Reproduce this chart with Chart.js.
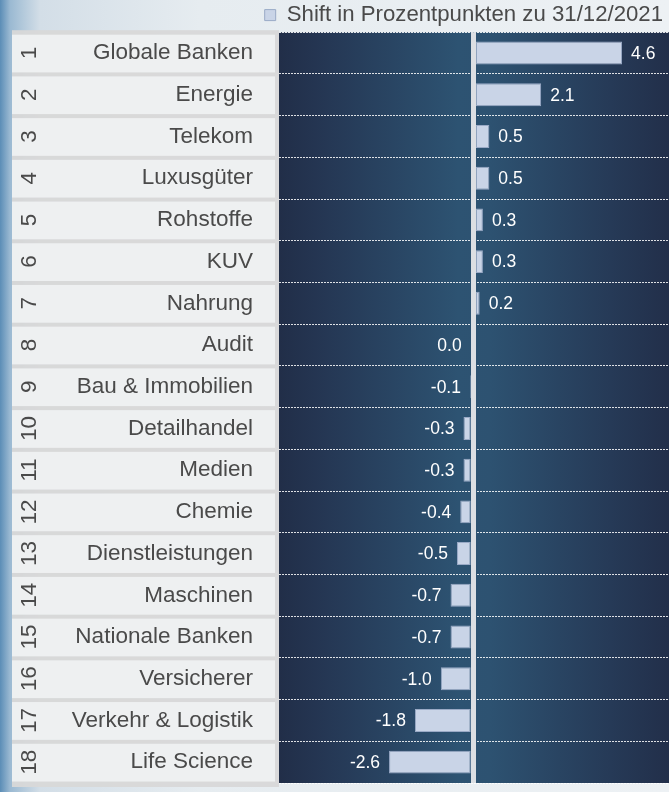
<!DOCTYPE html>
<html>
<head>
<meta charset="utf-8">
<script src="https://cdn.jsdelivr.net/npm/chart.js@4"></script>
<style>
  html, body { margin: 0; padding: 0; }
  body {
    width: 669px; height: 792px; overflow: hidden;
    background: linear-gradient(to right, #5b8db6 0px, #9ab9d2 10px, #d3dee7 40px, #e6ecf0 200px, #edf1f4 669px);
  }
  #wrap { position: relative; width: 669px; height: 792px; }
</style>
</head>
<body>
<div id="wrap"><canvas id="grafico"></canvas></div>
<script>
const ranks = [1, 2, 3, 4, 5, 6, 7, 8, 9, 10, 11, 12, 13, 14, 15, 16, 17, 18]
const sektoren = ['Globale Banken', 'Energie', 'Telekom', 'Luxusgüter', 'Rohstoffe', 'KUV', 'Nahrung', 'Audit',
  'Bau & Immobilien', 'Detailhandel', 'Medien', 'Chemie', 'Dienstleistungen', 'Maschinen', 'Nationale Banken',
  'Versicherer', 'Verkehr & Logistik', 'Life Science']
const shift = [4.6, 2.1, 0.5, 0.5, 0.3, 0.3, 0.2, 0.0, -0.1, -0.3, -0.3, -0.4, -0.5, -0.7, -0.7, -1.0, -1.8, -2.6]
const serie = 'Shift in Prozentpunkten zu 31/12/2021'

const FONT = "'Liberation Sans', Arial, sans-serif"

// Hintergrund: graue Rahmen + helle Boxen links, dunkles Panel im Plotbereich
const hintergrund = {
  id: 'hintergrund',
  beforeDraw(chart) {
    const { ctx, chartArea: a, scales: { y } } = chart
    const pitch = y.getPixelForValue(1) - y.getPixelForValue(0)
    ctx.save()
    ctx.fillStyle = 'rgba(216,216,216,0.95)'
    ctx.fillRect(12, a.top - 2, a.left - 12, a.bottom - a.top + 6)
    ctx.fillStyle = 'rgba(244,246,248,0.8)'
    sektoren.forEach((s, i) => {
      const c = y.getPixelForValue(i)
      ctx.fillRect(12, c - pitch / 2 + 2.5, a.left - 16, pitch - 4)
    })
    const g = ctx.createLinearGradient(a.left, 0, a.right, 0)
    g.addColorStop(0, '#212e48')
    g.addColorStop(0.12, '#253754')
    g.addColorStop(0.46, '#2d5372')
    g.addColorStop(0.54, '#2d5271')
    g.addColorStop(0.85, '#263a57')
    g.addColorStop(1, '#222f4a')
    ctx.fillStyle = g
    ctx.fillRect(a.left, a.top, a.right - a.left, a.bottom - a.top)
    ctx.restore()
  },
  afterLayout(chart) {
    // Legende etwas tiefer und nach links setzen
    chart.legend.top += 4
    chart.legend.bottom += 4
    chart.legend.left -= 6
    chart.legend.right -= 6
  }
}

// Rangnummern (gedreht) und Wertebeschriftung
const beschriftung = {
  id: 'beschriftung',
  afterDatasetsDraw(chart) {
    const { ctx, scales: { x, y } } = chart
    const meta = chart.getDatasetMeta(0)
    const zero = x.getPixelForValue(0)
    ctx.save()
    ctx.font = '17.5px ' + FONT
    ctx.fillStyle = '#ffffff'
    ctx.textBaseline = 'middle'
    meta.data.forEach((bar, i) => {
      const v = shift[i]
      if (v > 0) {
        ctx.textAlign = 'left'
        ctx.fillText(v.toFixed(1), bar.x + 9, bar.y + 1)
      } else {
        ctx.textAlign = 'right'
        ctx.fillText(v.toFixed(1), Math.min(bar.x, zero - 2.5) - 9, bar.y + 1)
      }
    })
    ctx.font = '22.5px ' + FONT
    ctx.fillStyle = '#4a4a4a'
    ctx.textAlign = 'center'
    ranks.forEach((r, i) => {
      const c = y.getPixelForValue(i)
      ctx.save()
      ctx.translate(29, c)
      ctx.rotate(-Math.PI / 2)
      ctx.fillText(String(r), 0, 1)
      ctx.restore()
    })
    ctx.restore()
  }
}

const data = {
  labels: sektoren,
  datasets: [{
    label: serie,
    data: shift,
    backgroundColor: '#c9d4e7',
    borderColor: '#9aaac6',
    borderWidth: 1,
    borderSkipped: false,
    barPercentage: 0.55,
    categoryPercentage: 1
  }]
}

const config = {
  type: 'bar',
  data,
  options: {
    indexAxis: 'y',
    responsive: true,
    maintainAspectRatio: false,
    animation: false,
    layout: { padding: { left: 0, right: 0, top: 0, bottom: 9 } },
    plugins: {
      legend: {
        position: 'top',
        align: 'end',
        labels: {
          boxWidth: 11, boxHeight: 11, padding: 0,
          color: '#4a4a4a',
          font: { family: FONT, size: 22.2 }
        }
      },
      tooltip: { enabled: false }
    },
    scales: {
      x: {
        min: -6,
        max: 6.05,
        afterFit: s => { s.height = 0 },
        ticks: { display: false, stepSize: 1 },
        border: { display: false },
        grid: {
          z: 1,
          drawTicks: false,
          tickLength: 0,
          lineWidth: 5,
          color: c => c.tick && c.tick.value === 0 ? '#dcdfe3' : 'rgba(0,0,0,0)'
        }
      },
      y: {
        afterFit: s => { s.width = 279 },
        border: { display: false, dash: [2, 1] },
        grid: {
          drawTicks: true,
          tickLength: 26,
          tickColor: 'rgba(0,0,0,0)',
          color: 'rgba(255,255,255,0.85)',
          lineWidth: 1
        },
        ticks: {
          padding: 0,
          color: '#4a4a4a',
          font: { family: FONT, size: 22.5, lineHeight: 0.8 }
        }
      }
    }
  },
  plugins: [hintergrund, beschriftung]
}

const graph = new Chart(document.getElementById('grafico'), config)
</script>
</body>
</html>
